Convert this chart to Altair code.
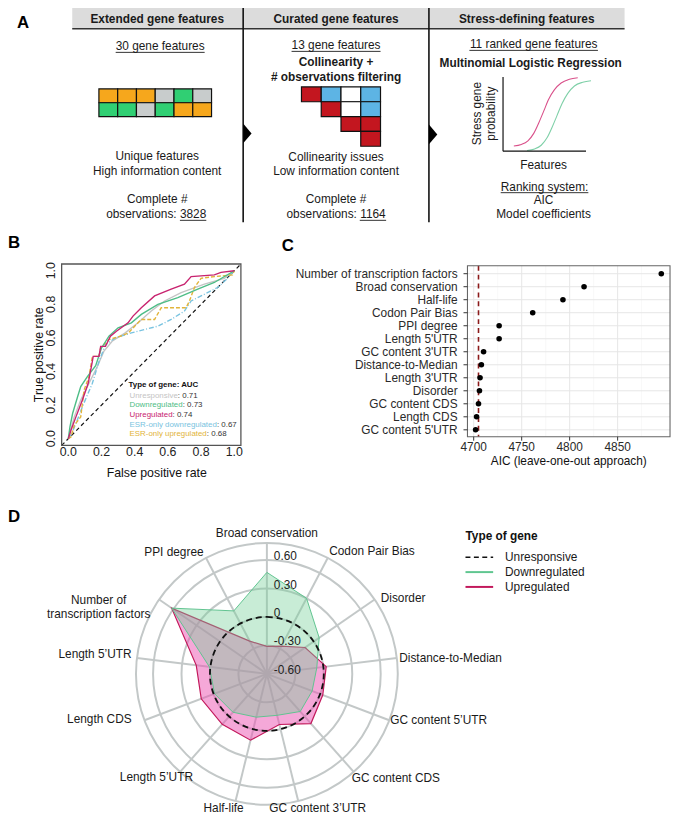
import altair as alt
import numpy as np
import pandas as pd

FONT = "Liberation Sans"
INK = "#1a1a1a"

# ======================= DATA =======================
# ---- Panel A (schematic) ----
A_HEADERS = ["Extended gene features", "Curated gene features", "Stress-defining features"]
A_COUNTS = ["30 gene features", "13 gene features", "11 ranked gene features"]
A_GRID = [["orange", "orange", "orange", "grey", "green", "grey"],
          ["green", "green", "grey", "green", "orange", "orange"]]
A_MATRIX = [["red", "blue", "white", "blue"],
            [None, "red", "white", "blue"],
            [None, None, "red", "red"],
            [None, None, None, "red"]]
A_OBS = ["3828", "1164"]
SIG_UP_X = [0.13, 0.22, 0.30, 0.37, 0.43, 0.49, 0.55, 0.62, 0.70, 0.80, 0.90]
SIG_UP_Y = [0.07, 0.09, 0.14, 0.24, 0.38, 0.54, 0.70, 0.83, 0.92, 0.97, 0.99]
SIG_DOWN_X = [0.29, 0.38, 0.46, 0.53, 0.59, 0.65, 0.71, 0.78, 0.86, 0.96, 1.06]
SIG_DOWN_Y = [0.01, 0.03, 0.08, 0.18, 0.32, 0.48, 0.64, 0.78, 0.88, 0.93, 0.95]

# ---- Panel B (ROC) ----
FPR_UNRESP = [0, 0.036, 0.075, 0.125, 0.175, 0.214, 0.264, 0.343, 0.42, 0.50, 0.58, 0.68, 0.82, 0.94, 1.0]
TPR_UNRESP = [0, 0.13, 0.23, 0.33, 0.43, 0.52, 0.58, 0.63, 0.69, 0.76, 0.82, 0.87, 0.92, 0.955, 1.0]
FPR_DOWN = [0, 0.01, 0.026, 0.056, 0.075, 0.115, 0.165, 0.2, 0.245, 0.30, 0.38, 0.44, 0.54, 0.66, 0.78, 0.88, 1.0]
TPR_DOWN = [0, 0.07, 0.15, 0.25, 0.31, 0.37, 0.435, 0.54, 0.61, 0.66, 0.69, 0.74, 0.80, 0.84, 0.89, 0.93, 1.0]
FPR_UP = [0, 0.016, 0.046, 0.085, 0.12, 0.145, 0.15, 0.185, 0.195, 0.224, 0.254, 0.29, 0.36, 0.39,
          0.44, 0.52, 0.62, 0.70, 0.74, 0.88, 0.92, 1.0]
TPR_UP = [0, 0.05, 0.13, 0.23, 0.33, 0.46, 0.49, 0.49, 0.55, 0.55, 0.61, 0.64, 0.69, 0.73,
          0.78, 0.85, 0.89, 0.92, 0.965, 0.975, 0.99, 1.0]
FPR_ESR_DOWN = [0, 0.02, 0.046, 0.085, 0.145, 0.185, 0.224, 0.284, 0.38, 0.46, 0.54, 0.62, 0.70,
                0.74, 0.82, 0.90, 0.96, 1.0]
TPR_ESR_DOWN = [0, 0.03, 0.09, 0.19, 0.33, 0.46, 0.56, 0.60, 0.63, 0.65, 0.67, 0.71, 0.76,
                0.82, 0.86, 0.90, 0.955, 1.0]
FPR_ESR_UP = [0, 0.016, 0.036, 0.075, 0.095, 0.125, 0.145, 0.185, 0.195, 0.244, 0.313, 0.363, 0.40,
              0.44, 0.52, 0.56, 0.71, 0.73, 0.76, 0.80, 0.88, 0.99, 1.0]
TPR_ESR_UP = [0, 0.01, 0.08, 0.13, 0.29, 0.37, 0.49, 0.49, 0.54, 0.59, 0.61, 0.63, 0.67,
              0.71, 0.71, 0.78, 0.78, 0.82, 0.90, 0.955, 0.965, 0.975, 1.0]
B_LEGEND_NAMES = ["Unresponsive", "Downregulated", "Upregulated", "ESR-only downregulated", "ESR-only upregulated"]
B_LEGEND_AUC = ["0.71", "0.73", "0.74", "0.67", "0.68"]
B_TICKS = [0.0, 0.2, 0.4, 0.6, 0.8, 1.0]

# ---- Panel C (AIC) ----
C_FEATURES = ["Number of transcription factors", "Broad conservation", "Half-life", "Codon Pair Bias",
              "PPI degree", "Length 5'UTR", "GC content 3'UTR", "Distance-to-Median", "Length 3'UTR",
              "Disorder", "GC content CDS", "Length CDS", "GC content 5'UTR"]
C_AIC = [4895.5, 4815, 4793, 4761.5, 4726.5, 4726.5, 4710.3, 4708, 4706.6, 4706, 4705, 4703, 4702]
C_REF = 4705
C_TICKS = [4700, 4750, 4800, 4850]
C_MINOR = [4725, 4775, 4825, 4875]

# ---- Panel D (radar) ----
D_FEATURES = ["Broad conservation", "Codon Pair Bias", "Disorder", "Distance-to-Median",
              "GC content 5\u2019UTR", "GC content CDS", "GC content 3\u2019UTR", "Half-life",
              "Length 5\u2019UTR", "Length CDS", "Length 5\u2019UTR",
              "Number of transcription factors", "PPI degree"]
D_DOWN = [0.47, 0.30, 0.07, -0.07, -0.09, -0.07, -0.15, -0.13, -0.06, -0.01, 0.01, 0.62, 0.15]
D_UP = [-0.31, -0.27, -0.11, 0.03, 0.03, 0.10, -0.05, 0.12, 0.11, 0.14, 0.15, 0.62, -0.21]
D_UNRESP = 0.0
D_GRID_VALUES = [-0.30, 0.0, 0.30, 0.60]
D_AXIS_LABELS = [0.60, 0.30, 0.0, -0.30, -0.60]
D_LEGEND = ["Unresponsive", "Downregulated", "Upregulated"]

# ======================= STYLE / LAYOUT =======================
COL = {"orange": "#f6a71c", "green": "#30cf73", "grey": "#c8cccc", "red": "#c3161f",
       "blue": "#5db4e4", "white": "#ffffff"}
C_UNRESP, C_DOWN, C_UP, C_ESRD, C_ESRU = "#c4c4c4", "#4dbd86", "#c8236f", "#79c3e0", "#e2b43a"
GRIDC = "#c3c8c8"

AW = {' ': 278, '!': 278, '#': 556, "'": 191, '(': 333, ')': 333, '+': 584, '-': 333, '.': 278,
      ':': 278, 'A': 667, 'B': 667, 'C': 722, 'D': 722, 'E': 667, 'F': 611, 'G': 778, 'H': 722,
      'I': 278, 'L': 556, 'M': 833, 'N': 722, 'P': 667, 'R': 722, 'S': 667, 'T': 611, 'U': 722,
      'a': 556, 'b': 556, 'c': 500, 'd': 556, 'e': 556, 'f': 278, 'g': 556, 'h': 556, 'i': 222,
      'j': 222, 'k': 500, 'l': 222, 'm': 833, 'n': 556, 'o': 556, 'p': 556, 'q': 556, 'r': 333,
      's': 500, 't': 278, 'u': 556, 'v': 500, 'w': 722, 'x': 500, 'y': 500, 'z': 500}


def tw(s, size):
    return sum(AW.get(ch, 556) for ch in s) * size / 1000.0


# page coordinate scales (page pixel -> chart pixel)
PX = alt.Scale(domain=[8, 680], range=[0, 672])
PY = alt.Scale(domain=[8, 821], range=[0, 813])


def pg_text(rows, size=12, bold=False, align="center", angle=0):
    df = pd.DataFrame(rows, columns=["x", "y", "t", "c"])
    return alt.Chart(df).mark_text(font=FONT, fontSize=size, fontWeight="bold" if bold else "normal",
                                   align=align, baseline="middle", angle=angle).encode(
        x=alt.X("x:Q", scale=PX, axis=None), y=alt.Y("y:Q", scale=PY, axis=None),
        text="t:N", color=alt.Color("c:N", scale=None))


def pg_rules(rows, color=INK, width=1.0, dash=None):
    df = pd.DataFrame(rows, columns=["x", "y", "x2", "y2"])
    kw = dict(color=color, strokeWidth=width)
    if dash is not None:
        kw["strokeDash"] = dash
    return alt.Chart(df).mark_rule(**kw).encode(
        x=alt.X("x:Q", scale=PX, axis=None), y=alt.Y("y:Q", scale=PY, axis=None),
        x2="x2:Q", y2="y2:Q")


# ======================= PANEL A =======================
pg = []
pg.append(alt.Chart(pd.DataFrame([{"x": 73, "y": 2, "x2": 632, "y2": 24}])).mark_rect(
    fill="#dcdcdc").encode(x=alt.X("x:Q", scale=PX, axis=None), y=alt.Y("y:Q", scale=PY, axis=None),
                           x2="x2:Q", y2="y2:Q"))
pg.append(pg_rules([(73, 24, 632, 24)], color="#333333", width=1.5))
pg.append(pg_rules([(246, 2, 246, 220), (434, 2, 434, 220)], color="#111111", width=1.6))
TRI = "M0,-1L0.85,0L0,1Z"
pg.append(alt.Chart(pd.DataFrame({"x": [246, 434], "y": [130, 131]})).mark_point(
    shape=TRI, size=400, filled=True, color="#000000", opacity=1, strokeWidth=0).encode(
    x=alt.X("x:Q", scale=PX, axis=None), y=alt.Y("y:Q", scale=PY, axis=None)))

C2 = 340
hx = [159, C2, 533]
pg.append(pg_text([(hx[i], 14, A_HEADERS[i], INK) for i in range(3)], size=12, bold=True))
cnt_pos = [(162, 42), (C2, 41), (540, 40)]
pg.append(pg_text([(cnt_pos[i][0], cnt_pos[i][1], A_COUNTS[i], INK) for i in range(3)], size=12))
ul = [(cnt_pos[i][0] - tw(A_COUNTS[i], 12) / 2, cnt_pos[i][1] + 6,
       cnt_pos[i][0] + tw(A_COUNTS[i], 12) / 2, cnt_pos[i][1] + 6) for i in range(3)]
obs_pos = [(158, 212), (C2, 212)]
obs_txt = ["observations: " + o for o in A_OBS]
for i in range(2):
    w = tw(obs_txt[i], 12)
    x0 = obs_pos[i][0] - w / 2 + tw("observations: ", 12)
    ul.append((x0, obs_pos[i][1] + 6, obs_pos[i][0] + w / 2, obs_pos[i][1] + 6))
ul.append((551 - tw("Ranking system:", 12) / 2, 190, 551 + tw("Ranking system:", 12) / 2, 190))
pg.append(pg_rules(ul, color=INK, width=0.9))

pg.append(pg_text([
    (159, 153, "Unique features", INK), (159, 168, "High information content", INK),
    (159, 196, "Complete #", INK), (obs_pos[0][0], obs_pos[0][1], obs_txt[0], INK),
    (C2, 154, "Collinearity issues", INK), (C2, 168, "Low information content", INK),
    (C2, 196, "Complete #", INK), (obs_pos[1][0], obs_pos[1][1], obs_txt[1], INK),
    (550, 162, "Features", INK), (551, 184, "Ranking system:", INK), (550, 197, "AIC", INK),
    (550, 212, "Model coefficients", INK)], size=12))
pg.append(pg_text([(C2, 58, "Collinearity +", INK), (C2, 73, "# observations filtering", INK),
                   (537, 59, "Multinomial Logistic Regression", INK)], size=12, bold=True))
pg.append(pg_text([(483, 110, "Stress gene", INK), (497, 110, "probability", INK)], size=12, angle=270))
pg.append(pg_rules([(509, 73, 509, 148), (509, 148, 593, 148)], color="#111111", width=1.2))

# panel letters
pg.append(pg_text([(17, 18, "A", "#000"), (8, 241, "B", "#000"), (285, 244, "C", "#000"),
                   (8, 518, "D", "#000")], size=17, bold=True, align="left"))

# grid cells of panel A
g1 = pd.DataFrame([{"c": c, "c1": c + 1, "r": r, "r1": r + 1, "hex": COL[A_GRID[r][c]]}
                   for r in range(2) for c in range(6)])
grid1 = alt.Chart(g1).mark_rect(stroke="#111111", strokeWidth=1.2).encode(
    x=alt.X("c:Q", scale=alt.Scale(domain=[0, 6], range=[92, 206]), axis=None), x2="c1:Q",
    y=alt.Y("r:Q", scale=alt.Scale(domain=[0, 2], range=[77, 105]), axis=None), y2="r1:Q",
    fill=alt.Fill("hex:N", scale=None))
g2 = pd.DataFrame([{"c": c, "c1": c + 1, "r": r, "r1": r + 1, "hex": COL[A_MATRIX[r][c]]}
                   for r in range(4) for c in range(4) if A_MATRIX[r][c]])
grid2 = alt.Chart(g2).mark_rect(stroke="#111111", strokeWidth=1.2).encode(
    x=alt.X("c:Q", scale=alt.Scale(domain=[0, 4], range=[297, 377]), axis=None), x2="c1:Q",
    y=alt.Y("r:Q", scale=alt.Scale(domain=[0, 4], range=[75, 135]), axis=None), y2="r1:Q",
    fill=alt.Fill("hex:N", scale=None))

SX = alt.Scale(domain=[0, 1], range=[501, 585])
SY = alt.Scale(domain=[0, 1], range=[140, 65])
sig_up = alt.Chart(pd.DataFrame({"x": SIG_UP_X, "y": SIG_UP_Y, "i": range(len(SIG_UP_X))})).mark_line(
    color="#d9508a", strokeWidth=1.1, interpolate="monotone").encode(
    x=alt.X("x:Q", scale=SX, axis=None), y=alt.Y("y:Q", scale=SY, axis=None), order="i:Q")
sig_dn = alt.Chart(pd.DataFrame({"x": SIG_DOWN_X, "y": SIG_DOWN_Y, "i": range(len(SIG_DOWN_X))})).mark_line(
    color="#7fd0a8", strokeWidth=1.1, interpolate="monotone").encode(
    x=alt.X("x:Q", scale=SX, axis=None), y=alt.Y("y:Q", scale=SY, axis=None), order="i:Q")
sig = alt.layer(sig_up, sig_dn)

# ======================= PANEL B =======================
BX = alt.Scale(domain=[-0.04, 1.04], range=[54.3, 235.7])
BY = alt.Scale(domain=[-0.04, 1.04], range=[437.8, 254.2])
b_layers = []
b_layers.append(alt.Chart(pd.DataFrame([{"x": -0.04, "x2": 1.04, "y": -0.04, "y2": 1.04}])).mark_rule(
    color="#111111", strokeWidth=1.2, strokeDash=[4, 3]).encode(
    x=alt.X("x:Q", scale=BX, axis=None), y=alt.Y("y:Q", scale=BY, axis=None), x2="x2:Q", y2="y2:Q"))
roc_specs = [
    (FPR_UNRESP, TPR_UNRESP, C_UNRESP, None),
    (FPR_ESR_DOWN, TPR_ESR_DOWN, C_ESRD, [5, 2, 1, 2]),
    (FPR_ESR_UP, TPR_ESR_UP, C_ESRU, [4, 2]),
    (FPR_DOWN, TPR_DOWN, C_DOWN, None),
    (FPR_UP, TPR_UP, C_UP, None),
]
for fx, ty, colr, dash in roc_specs:
    df = pd.DataFrame({"fpr": fx, "tpr": ty, "i": range(len(fx))})
    kw = dict(color=colr, strokeWidth=1.4)
    if dash:
        kw["strokeDash"] = dash
    b_layers.append(alt.Chart(df).mark_line(**kw).encode(
        x=alt.X("fpr:Q", scale=BX, axis=None), y=alt.Y("tpr:Q", scale=BY, axis=None), order="i:Q"))
b_layers.append(alt.Chart(pd.DataFrame([{"x": -0.04, "x2": 1.04, "y": -0.04, "y2": 1.04}])).mark_rect(
    filled=False, color="#555555", strokeWidth=1.3).encode(
    x=alt.X("x:Q", scale=BX, axis=None), y=alt.Y("y:Q", scale=BY, axis=None), x2="x2:Q", y2="y2:Q"))
bt = pd.DataFrame({"v": B_TICKS, "t": ["%.1f" % v for v in B_TICKS]})
b_layers.append(alt.Chart(bt).mark_text(font=FONT, fontSize=12.5, color="#222222", baseline="middle").encode(
    x=alt.X("v:Q", scale=BX, axis=None), y=alt.value(445), text="t:N"))
b_layers.append(alt.Chart(bt).mark_text(font=FONT, fontSize=12.5, color="#222222", baseline="middle",
                                        angle=270).encode(
    y=alt.Y("v:Q", scale=BY, axis=None), x=alt.value(44), text="t:N"))
panel_b = alt.layer(*b_layers)

# B axis titles and legend (page coords)
pg.append(pg_text([(39, 354, "True positive rate", "#111")], size=12.5, angle=270))
pg.append(pg_text([(158.5, 474, "False positive rate", "#111")], size=12.5))
pg.append(pg_text([(130, 385, "Type of gene: AUC", "#111")], size=8, bold=True, align="left"))
leg_cols = [C_UNRESP, C_DOWN, C_UP, C_ESRD, C_ESRU]
leg_y = [395.7, 405.3, 415.3, 424.7, 434]
pg.append(pg_text([(131, leg_y[i], B_LEGEND_NAMES[i], leg_cols[i]) for i in range(5)], size=8, align="left"))
pg.append(pg_text([(131 + tw(B_LEGEND_NAMES[i], 8), leg_y[i], ": " + B_LEGEND_AUC[i], "#333")
                   for i in range(5)], size=8, align="left"))

# ======================= PANEL C =======================
CX = alt.Scale(domain=[4693.5, 4904.6], range=[465, 670])
CY = alt.Scale(type="point", domain=C_FEATURES, range=[264, 422], padding=0)
c_layers = []
c_layers.append(alt.Chart(pd.DataFrame({"v": C_MINOR})).mark_rule(color="#f3f3f3", strokeWidth=0.6).encode(
    x=alt.X("v:Q", scale=CX, axis=None), y=alt.value(256), y2=alt.value(429)))
c_layers.append(alt.Chart(pd.DataFrame({"v": C_TICKS})).mark_rule(color="#e6e6e6", strokeWidth=1).encode(
    x=alt.X("v:Q", scale=CX, axis=None), y=alt.value(256), y2=alt.value(429)))
cdf = pd.DataFrame({"f": C_FEATURES, "aic": C_AIC})
c_layers.append(alt.Chart(cdf).mark_rule(color="#e6e6e6", strokeWidth=1).encode(
    y=alt.Y("f:N", scale=CY, axis=None), x=alt.value(465), x2=alt.value(670)))
c_layers.append(alt.Chart(pd.DataFrame({"v": [C_REF]})).mark_rule(
    color="#8b1a1a", strokeWidth=1.6, strokeDash=[5, 4]).encode(
    x=alt.X("v:Q", scale=CX, axis=None), y=alt.value(256), y2=alt.value(429)))
c_layers.append(alt.Chart(cdf).mark_circle(size=32, color="#000000", opacity=1).encode(
    x=alt.X("aic:Q", scale=CX, axis=None), y=alt.Y("f:N", scale=CY, axis=None)))
c_layers.append(alt.Chart(pd.DataFrame([{"x": 4693.5, "x2": 4904.6}])).mark_rect(
    filled=False, color="#666666", strokeWidth=1.1).encode(
    x=alt.X("x:Q", scale=CX, axis=None), x2="x2:Q", y=alt.value(256), y2=alt.value(429)))
c_layers.append(alt.Chart(cdf).mark_rule(color="#333333", strokeWidth=1).encode(
    y=alt.Y("f:N", scale=CY, axis=None), x=alt.value(461), x2=alt.value(465)))
c_layers.append(alt.Chart(pd.DataFrame({"v": C_TICKS})).mark_rule(color="#333333", strokeWidth=1).encode(
    x=alt.X("v:Q", scale=CX, axis=None), y=alt.value(429), y2=alt.value(433)))
c_layers.append(alt.Chart(cdf).mark_text(font=FONT, fontSize=12, color="#2a2a2a", align="right",
                                         baseline="middle").encode(
    y=alt.Y("f:N", scale=CY, axis=None), x=alt.value(455), text="f:N"))
c_layers.append(alt.Chart(pd.DataFrame({"v": C_TICKS, "t": [str(v) for v in C_TICKS]})).mark_text(
    font=FONT, fontSize=12, color="#2a2a2a", baseline="middle").encode(
    x=alt.X("v:Q", scale=CX, axis=None), y=alt.value(439), text="t:N"))
panel_c = alt.layer(*c_layers)
pg.append(pg_text([(575.5, 462, "AIC (leave-one-out approach)", "#111")], size=12))

# ======================= PANEL D =======================
K = 96.0
CXD, CYD = 262, 669
RX = alt.Scale(domain=[-1, 1], range=[CXD - K, CXD + K])
RY = alt.Scale(domain=[-1, 1], range=[CYD + K, CYD - K])
RAD = alt.Scale(type="linear", domain=[0, 1], range=[0, K], zero=True)
OFF = 0.6
OUTER = 1.38
n = len(D_FEATURES)
theta = np.arange(n) * 2 * np.pi / n

d_layers = []
rings = pd.DataFrame({"r": [v + OFF for v in D_GRID_VALUES] + [OUTER], "cx": 0.0, "cy": 0.0})
d_layers.append(alt.Chart(rings).mark_arc(filled=False, stroke=GRIDC, strokeWidth=2,
                                          theta=0, theta2=2 * np.pi).encode(
    x=alt.X("cx:Q", scale=RX, axis=None), y=alt.Y("cy:Q", scale=RY, axis=None),
    radius=alt.Radius("r:Q", scale=RAD, stack=None)))
spokes = pd.DataFrame({"x0": 0.0, "y0": 0.0, "x1": OUTER * np.sin(theta), "y1": OUTER * np.cos(theta)})
d_layers.append(alt.Chart(spokes).mark_rule(color=GRIDC, strokeWidth=2).encode(
    x=alt.X("x0:Q", scale=RX, axis=None), y=alt.Y("y0:Q", scale=RY, axis=None), x2="x1:Q", y2="y1:Q"))


def poly(vals, fill, fop, stroke, sw):
    r = np.array(vals) + OFF
    df = pd.DataFrame({"X": r * np.sin(theta), "Y": r * np.cos(theta), "i": range(n)})
    return alt.Chart(df).mark_line(interpolate="linear-closed", fill=fill, fillOpacity=fop,
                                   stroke=stroke, strokeWidth=sw).encode(
        x=alt.X("X:Q", scale=RX, axis=None), y=alt.Y("Y:Q", scale=RY, axis=None), order="i:Q")


d_layers.append(poly(D_UP, "#eb51b1", 0.5, "#c2185b", 1.2))
d_layers.append(poly(D_DOWN, "#75cf98", 0.4, "#5fc38f", 1.0))
d_layers.append(alt.Chart(pd.DataFrame({"r": [D_UNRESP + OFF], "cx": 0.0, "cy": 0.0})).mark_arc(
    filled=False, stroke="#111111", strokeWidth=1.8, strokeDash=[6, 4], theta=0, theta2=2 * np.pi).encode(
    x=alt.X("cx:Q", scale=RX, axis=None), y=alt.Y("cy:Q", scale=RY, axis=None),
    radius=alt.Radius("r:Q", scale=RAD, stack=None)))

# axis value labels
al = pd.DataFrame({"x": 7 / K, "y": [v + OFF + 4 / K for v in D_AXIS_LABELS],
                   "t": ["%.2f" % v if v != 0 else "0" for v in D_AXIS_LABELS]})
d_layers.append(alt.Chart(al).mark_text(font=FONT, fontSize=12, color="#222222", align="left",
                                        baseline="middle").encode(
    x=alt.X("x:Q", scale=RX, axis=None), y=alt.Y("y:Q", scale=RY, axis=None), text="t:N"))

# feature labels (align, nudge dx px, nudge dy px)
LAB_STYLE = [("center", 0, -3), ("left", -2, 0), ("left", 0, 3), ("left", -5, 1), ("left", -6, -3),
             ("left", -7, 1), ("left", -31, 0), ("right", 10, 0), ("right", 18, 0), ("right", -6, -4),
             ("right", 2, -3), ("center", -55, 5), ("right", 1, 1)]
RL = 140 / K
lab = pd.DataFrame({
    "x": [RL * np.sin(theta[i]) + LAB_STYLE[i][1] / K for i in range(n)],
    "y": [RL * np.cos(theta[i]) - LAB_STYLE[i][2] / K for i in range(n)],
    "t": D_FEATURES, "a": [s[0] for s in LAB_STYLE], "i": range(n)})
for a in ["left", "right", "center"]:
    sub = lab[(lab["a"] == a) & (lab["t"] != "Number of transcription factors")]
    d_layers.append(alt.Chart(sub).mark_text(font=FONT, fontSize=12, color=INK, align=a,
                                             baseline="middle").encode(
        x=alt.X("x:Q", scale=RX, axis=None), y=alt.Y("y:Q", scale=RY, axis=None), text="t:N"))
ntf = lab[lab["t"] == "Number of transcription factors"].copy()
ntf_words = ntf["t"].iloc[0].split(" ")
ntf_lines = [" ".join(ntf_words[:2]), " ".join(ntf_words[2:])]
d_layers.append(alt.Chart(ntf[["x", "y"]]).mark_text(font=FONT, fontSize=12, color=INK, align="center",
                                                     baseline="middle", lineHeight=14,
                                                     text=ntf_lines).encode(
    x=alt.X("x:Q", scale=RX, axis=None), y=alt.Y("y:Q", scale=RY, axis=None)))
panel_d = alt.layer(*d_layers)

# D legend (page coords)
pg.append(pg_text([(471, 538, "Type of gene", "#111")], size=12, bold=True, align="left"))
pg.append(pg_text([(511, 559 + 15 * i, D_LEGEND[i], INK) for i in range(3)], size=12, align="left"))
pg.append(pg_rules([(471, 559, 499, 559)], color="#111111", width=1.6, dash=[5, 3.5]))
pg.append(pg_rules([(471, 574, 499, 574)], color="#5fc690", width=2))
pg.append(pg_rules([(471, 589, 499, 589)], color="#c2185b", width=2))

page = alt.layer(*pg)

chart = alt.layer(grid1, grid2, sig, panel_b, panel_c, panel_d, page).resolve_scale(
    x="independent", y="independent"
).properties(
    width=672, height=813, padding=0, autosize=alt.AutoSizeParams(type="none"), background="white"
).configure_view(stroke=None)

chart.save("out.html", embed_options={"renderer": "svg", "actions": False})
